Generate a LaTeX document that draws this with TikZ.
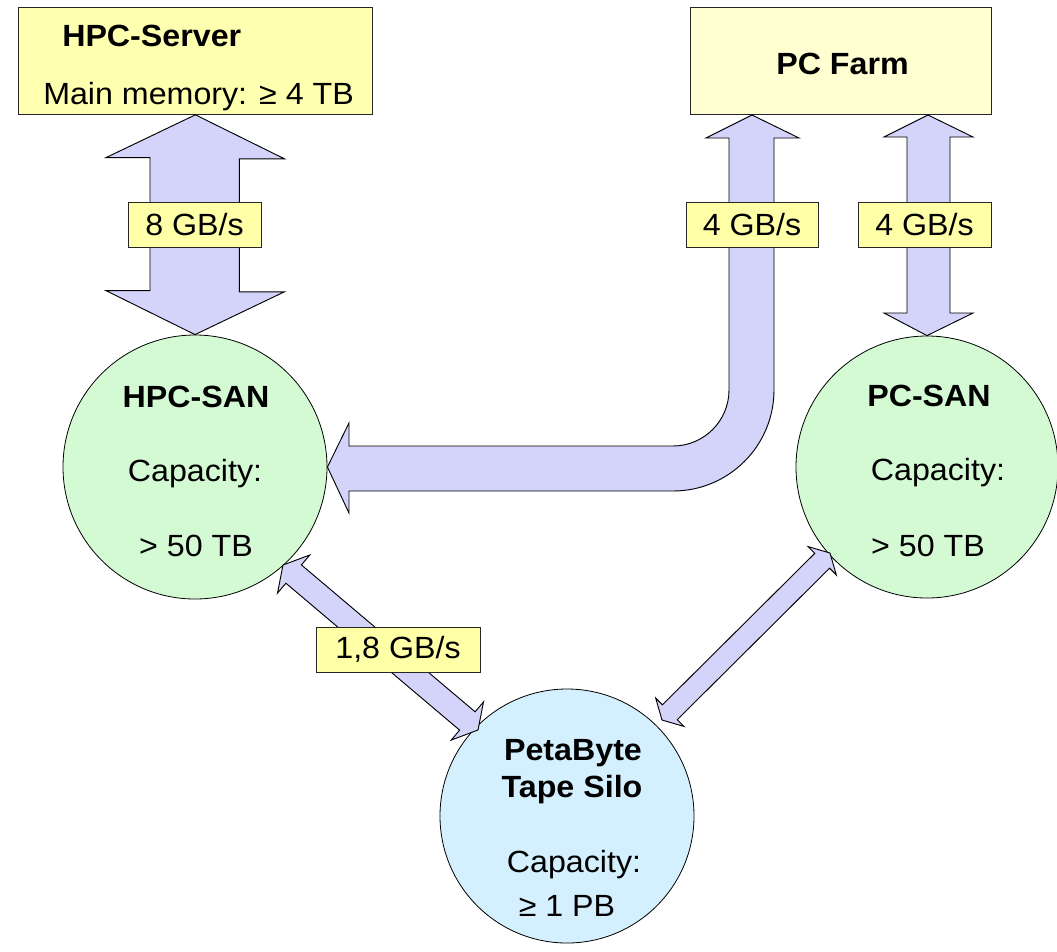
\documentclass[tikz,border=0pt]{standalone}
\usepackage{fontspec}
\setmainfont[FakeStretch=1.05]{Liberation Sans}
\definecolor{arrowfill}{RGB}{212,212,250}
\definecolor{srvfill}{RGB}{255,255,176}
\definecolor{farmfill}{RGB}{255,255,210}
\definecolor{lblfill}{RGB}{255,255,168}
\definecolor{sanfill}{RGB}{212,250,212}
\definecolor{tapefill}{RGB}{212,240,255}
\begin{document}
\begin{tikzpicture}[x=0.75pt,y=-0.75pt,
  font=\fontsize{23}{27}\selectfont,
  boxstyle/.style={draw=black!85,line width=0.6pt,inner sep=0pt,anchor=north west},
  disk/.style={circle,draw=black,line width=0.6pt,inner sep=0pt},
  blockarrow/.style={draw=black,line width=0.7pt,fill=arrowfill,line join=miter},
  rate/.style={draw=black!85,line width=0.6pt,fill=lblfill,inner sep=0pt,
    minimum height=33.75pt},
  txt/.style={anchor=base,inner sep=0pt},
  btxt/.style={anchor=base,inner sep=0pt,font=\fontsize{23}{27}\selectfont\bfseries}]
\useasboundingbox (0,0) rectangle (1057,951);

% boxes
\node[boxstyle,fill=srvfill,minimum width=265.5pt,minimum height=80.25pt] (srv) at (18,7) {};
\node[boxstyle,fill=farmfill,minimum width=225.75pt,minimum height=80.25pt] (farm) at (690,7) {};
\node[btxt,anchor=base west] (srvt) at (62,46) {HPC-Server};
\node[txt,anchor=base west] (srvm) at (43,104) {Main memory: ≥ 4 TB};
\node[btxt] (farmt) at (842.5,74) {PC Farm};

% disks
\node[disk,fill=sanfill,minimum size=198pt] (hsan) at (195,467) {};
\node[disk,fill=sanfill,minimum size=196.5pt] (psan) at (927,467) {};
\node[disk,fill=tapefill,minimum size=190.5pt] (tape) at (567,816) {};

\node[btxt] (hsan1) at (196,407) {HPC-SAN};
\node[txt] (hsan2) at (195,481) {Capacity:};
\node[txt] (hsan3) at (196,556) {> 50 TB};
\node[btxt] (psan1) at (929,406) {PC-SAN};
\node[txt] (psan2) at (938,480) {Capacity:};
\node[txt] (psan3) at (928,556) {> 50 TB};
\node[btxt] (tape1) at (573,760) {PetaByte};
\node[btxt] (tape2) at (572,797) {Tape Silo};
\node[txt] (tape3) at (574,872) {Capacity:};
\node[txt] (tape4) at (567,916) {≥ 1 PB};

% HPC-Server <-> HPC-SAN
\draw[blockarrow] (srv.south) -- ++(89,44) -- ++(-45,0) -- ++(0,133) -- ++(45,0)
  -- (hsan.north) -- ++(-89,-44) -- ++(44,0) -- ++(0,-133) -- ++(-44,0) -- cycle;

% PC Farm <-> PC-SAN
\draw[blockarrow] (928,115) -- (973,137) -- (950,137) -- (950,313) -- (973,313)
  -- (psan.north) -- (884,313) -- (907,313) -- (907,137) -- (884,137) -- cycle;

% HPC-SAN -> PC Farm (bent)
\draw[blockarrow] (752,115) -- (799,138) -- (774,138) -- (774,390)
  .. controls (774,445.8) and (728.8,491) .. (673,491) -- (349,491) -- (349,513)
  -- (hsan.east) -- (349,423) -- (349,446) -- (673,446)
  .. controls (703.9,446) and (729,420.9) .. (729,390) -- (729,138) -- (706,138) -- cycle;

% HPC-SAN <-> Tape
\coordinate (d1a) at (283,565);
\coordinate (d1b) at (478,730);
\draw[blockarrow] (d1a) -- (277.5,593.1) -- (285.9,583.2) -- (459.6,730.1) -- (451.2,740.1)
  -- (d1b) -- (483.5,701.9) -- (475.1,711.8) -- (301.4,564.9) -- (309.8,555.0) -- cycle;

% PC-SAN <-> Tape
\coordinate (d2a) at (830,553);
\coordinate (d2b) at (662,720);
\draw[blockarrow] (d2a) -- (808.1,546.6) -- (814.8,553.3) -- (662.4,704.8) -- (655.7,698.1)
  -- (d2b) -- (683.9,726.4) -- (677.2,719.7) -- (829.6,568.2) -- (836.3,574.9) -- cycle;

% rate labels
\node[rate,minimum width=99.75pt] (r1) at (194.5,224.5) {8 GB/s};
\node[rate,minimum width=99pt] (r2) at (752,224.5) {4 GB/s};
\node[rate,minimum width=99.75pt] (r3) at (924.5,224.5) {4 GB/s};
\node[rate,minimum width=123pt] (r4) at (398,649.5) {1,8 GB/s};
\end{tikzpicture}
\end{document}
